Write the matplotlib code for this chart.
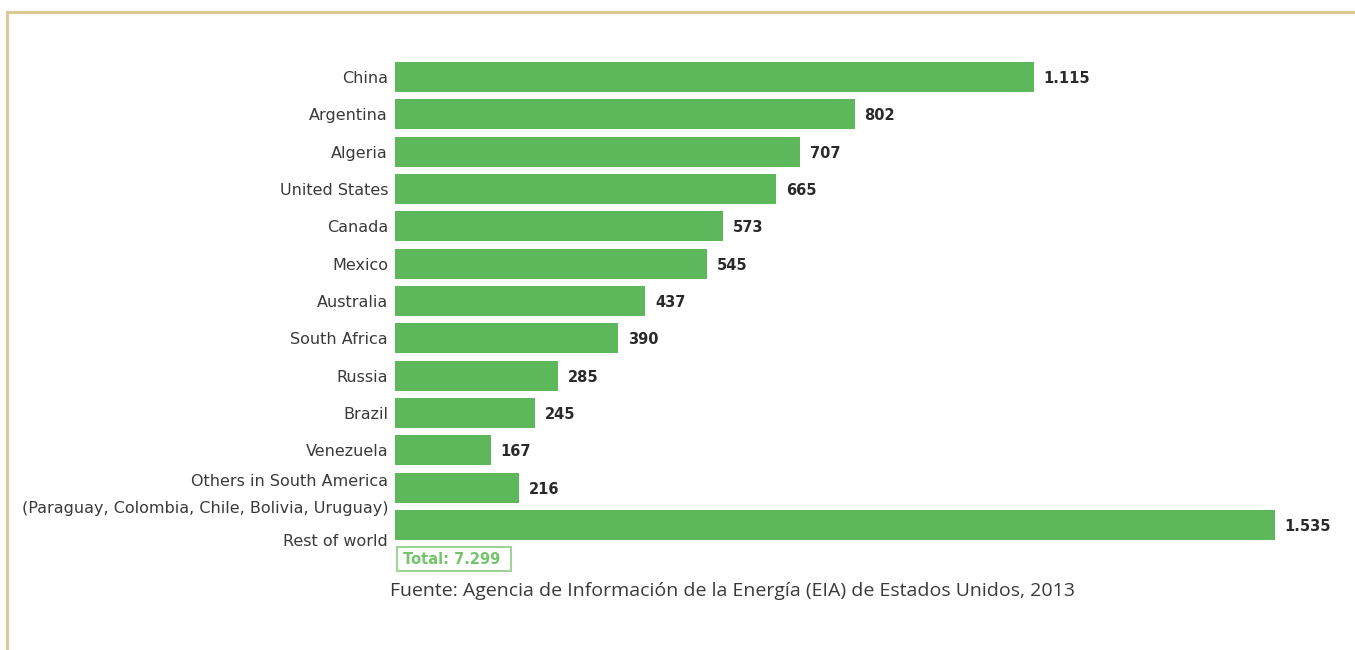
import matplotlib
matplotlib.use("Agg")
import matplotlib.pyplot as plt
from matplotlib import font_manager
from matplotlib.transforms import ScaledTranslation
from matplotlib.patches import Rectangle
from matplotlib.lines import Line2D

categories = ["China", "Argentina", "Algeria", "United States", "Canada", "Mexico",
              "Australia", "South Africa", "Russia", "Brazil", "Venezuela",
              "Others in South America\n(Paraguay, Colombia, Chile, Bolivia, Uruguay)",
              "Rest of world"]
values = [1115, 802, 707, 665, 573, 545, 437, 390, 285, 245, 167, 216, 1535]
value_labels = ["1.115", "802", "707", "665", "573", "545", "437", "390", "285",
                "245", "167", "216", "1.535"]
total_label = "Total: 7.299"
source = "Fuente: Agencia de Información de la Energía (EIA) de Estados Unidos, 2013"

names = {f.name for f in font_manager.fontManager.ttflist}
narrow = "Liberation Sans Narrow" if "Liberation Sans Narrow" in names else "DejaVu Sans"
plt.rcParams['font.family'] = [narrow, 'DejaVu Sans']

W, H = 1355, 650
fig = plt.figure(figsize=(W / 100, H / 100), dpi=100)
fig.patch.set_facecolor("white")

# frame lines
fig.add_artist(Line2D([7 / W, 1.0], [1 - 12 / H, 1 - 12 / H], color="#dcc799", lw=2.2,
                      transform=fig.transFigure))
fig.add_artist(Line2D([7 / W, 7 / W], [0, 1 - 12 / H], color="#dcc799", lw=2.2,
                      transform=fig.transFigure))

left = 395 / W
right = 1340 / W
top_px, bot_px = 58.3, 543.7
ax = fig.add_axes([left, 1 - bot_px / H, right - left, (bot_px - top_px) / H])
green = "#5cb85a"
y = list(range(len(categories)))
ax.barh(y, values, height=0.8, color=green)
ax.set_ylim(len(categories) - 0.5, -0.5)
ax.set_xlim(0, 945 / 0.573)
ax.set_yticks(y)
ax.set_yticklabels(categories, fontsize=11.5, color="#3a3a3a", linespacing=2.0)
ax.tick_params(axis="y", length=0, pad=5)
ax.set_xticks([])
for s in ax.spines.values():
    s.set_visible(False)
ax.set_facecolor("none")

# shift the last label down
lbls = ax.get_yticklabels()
lbls[-1].set_transform(lbls[-1].get_transform() + ScaledTranslation(0, -15 / 100, fig.dpi_scale_trans))

for yi, v, t in zip(y, values, value_labels):
    ax.annotate(t, (v, yi), xytext=(7, -1), textcoords="offset points", va="center",
                ha="left", fontsize=10.5, fontweight="bold", color="#2a2a2a")

# total box
fig.add_artist(Rectangle((397 / W, 1 - 571 / H), 114 / W, 24 / H, transform=fig.transFigure,
                         fill=False, edgecolor="#9fd497", lw=1.5))
fig.text(403 / W, 1 - 559 / H, total_label, fontsize=10.5, fontweight="bold", color="#74c46b",
         va="center", ha="left")

fig.text(390 / W, 1 - 591 / H, source, fontsize=14, color="#3a3a3a", va="center", ha="left",
         family=["Open Sans", "DejaVu Sans"])

fig.savefig("out.png", dpi=100)
